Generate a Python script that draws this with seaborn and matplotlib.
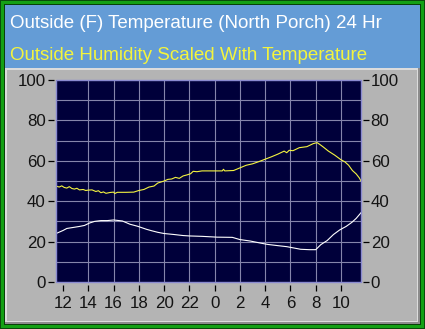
import numpy as np
import pandas as pd
import matplotlib
matplotlib.use("Agg")
import matplotlib.pyplot as plt
from matplotlib.patches import Rectangle
import seaborn as sns

# hours after 12:00 (noon) and the two traces
hum_hours = [-0.55, -0.3, -0.1, 0.1, 0.3, 0.5, 0.7, 0.9, 1.1, 1.3, 1.6, 1.8, 2.0, 2.3,
             2.6, 2.8, 3.0, 3.2, 3.4, 3.7, 4.0, 4.1, 4.3, 5.0, 5.6, 6.0, 6.4, 6.8, 7.2,
             7.5, 8.0, 8.3, 8.6, 8.9, 9.2, 9.5, 9.8, 10.1, 10.3, 10.6, 11.0, 12.0, 12.6,
             12.7, 12.8, 13.5, 14.0, 14.5, 15.0, 15.5, 16.0, 16.5, 17.0, 17.5, 17.7,
             17.9, 18.2, 18.7, 19.3, 19.8, 20.1, 20.3, 20.6, 21.0, 21.5, 22.0, 22.3,
             22.6, 22.9, 23.2, 23.45, 23.58]
hum_vals = [47.5, 47.0, 47.6, 46.8, 46.5, 47.2, 46.3, 46.0, 46.4, 45.6, 45.8, 45.3, 45.5,
            45.6, 44.8, 45.2, 44.2, 44.6, 43.9, 44.3, 44.5, 43.8, 44.4, 44.4, 44.5, 45.3,
            45.8, 47.0, 47.5, 49.0, 50.0, 50.8, 51.0, 51.8, 51.3, 52.5, 53.0, 53.6, 54.8,
            54.6, 55.0, 55.0, 55.0, 55.8, 55.0, 55.2, 56.5, 57.8, 58.5, 59.6, 60.8, 62.0,
            63.3, 64.8, 64.0, 65.2, 65.0, 66.5, 67.0, 68.5, 69.0, 68.2, 66.8, 64.8, 62.8,
            60.5, 59.5, 57.8, 55.2, 53.5, 51.5, 50.0]

temp_hours = [-0.55, 0.0, 0.3, 0.8, 1.3, 1.7, 2.1, 2.5, 3.0, 3.5, 4.0, 4.3, 4.7, 5.3,
              5.9, 6.6, 7.0, 7.5, 8.0, 8.8, 9.5, 10.0, 11.0, 11.6, 12.2, 13.4, 14.0,
              14.8, 15.6, 16.2, 17.0, 17.7, 18.3, 18.8, 19.5, 20.0, 20.4, 20.9, 21.4,
              21.9, 22.4, 22.85, 23.2, 23.58]
temp_vals = [24.0, 25.5, 26.5, 27.0, 27.5, 28.0, 29.2, 30.0, 30.4, 30.4, 30.7, 30.5,
             30.2, 28.6, 27.6, 26.1, 25.4, 24.6, 24.0, 23.5, 23.0, 22.8, 22.6, 22.4,
             22.2, 22.1, 21.0, 20.3, 19.3, 18.6, 18.0, 17.5, 16.8, 16.2, 16.0, 16.0,
             18.5, 20.5, 23.5, 25.8, 27.5, 29.5, 31.5, 34.3]

tick_pos = list(range(0, 24, 2))
tick_labels = ["12", "14", "16", "18", "20", "22", "0", "2", "4", "6", "8", "10"]
y_ticks = [0, 20, 40, 60, 80, 100]

hum = pd.DataFrame({"hour": hum_hours, "value": hum_vals})
temp = pd.DataFrame({"hour": temp_hours, "value": temp_vals})

W, H = 425, 329
fig = plt.figure(figsize=(W / 100, H / 100), dpi=100)


def box(x0, y0, x1, y1, color, z=0):
    # rectangle given in pixel coords from the top-left corner
    fig.add_artist(Rectangle((x0 / W, 1 - y1 / H), (x1 - x0) / W, (y1 - y0) / H,
                             transform=fig.transFigure, facecolor=color,
                             edgecolor="none", zorder=z))


# green frame
fig.patch.set_facecolor("#0b4a0b")
box(1, 1, W - 1, H - 1, "#14a014")
box(4, 4, W - 4, H - 4, "#084008")
# title band and grey panel with a simple bevel
box(5, 5, W - 5, 68, "#649cd6")
box(5, 68, W - 5, H - 5, "#8c8c8c")
box(5, 68, W - 7, H - 7, "#dcdcdc")
box(7, 70, W - 8, H - 8, "#b4b4b4")

fig.text(10 / W, 1 - 27.5 / H, "Outside (F) Temperature (North Porch) 24 Hr",
         color="white", fontsize=13.5, family="Liberation Sans", va="baseline")
fig.text(10 / W, 1 - 59.5 / H, "Outside Humidity Scaled With Temperature",
         color="#f4f43c", fontsize=13.5, family="Liberation Sans", va="baseline")

ax = fig.add_axes([56 / W, 1 - 282 / H, 305 / W, 202 / H])
ax.set_facecolor("#00003a")
ax.set_zorder(5)

sns.lineplot(data=hum, x="hour", y="value", ax=ax, color="#f4f440", linewidth=0.8,
             estimator=None, sort=False)
sns.lineplot(data=temp, x="hour", y="value", ax=ax, color="white", linewidth=0.8,
             estimator=None, sort=False)

ax.set_xlim(-0.554, 23.58)
ax.set_ylim(0, 100)
for h in tick_pos[1:]:
    ax.axvline(h, color="#8585ab", linewidth=0.8, zorder=0.5)
for v in range(10, 100, 10):
    ax.axhline(v, color="#8585ab", linewidth=0.8, zorder=0.5)

ax.set_xticks(tick_pos)
ax.set_xticklabels(tick_labels)
ax.set_yticks(y_ticks)
ax.set_xlabel("")
ax.set_ylabel("")
for s in ax.spines.values():
    s.set_visible(False)
ax.spines["bottom"].set_position(("outward", 2.2))
ax.spines["left"].set_position(("outward", 1.5))
ax.add_patch(Rectangle((0, 0), 1, 1, transform=ax.transAxes, fill=False,
                       edgecolor="#8a8ad0", linewidth=1.0, clip_on=False, zorder=10))

tick_font = ["Liberation Sans Narrow", "Liberation Sans"]
ax.tick_params(axis="x", length=4.5, width=0.9, color="black", pad=3.5,
               labelsize=12.2, labelcolor="#141414")
ax.tick_params(axis="y", length=4.5, width=0.9, color="black", pad=1.5,
               labelsize=12.2, labelcolor="#141414")
for lab in ax.get_xticklabels() + ax.get_yticklabels():
    lab.set_family(tick_font)

ax2 = ax.twinx()
ax2.set_ylim(0, 100)
ax2.set_yticks(y_ticks)
for s in ax2.spines.values():
    s.set_visible(False)
ax2.spines["right"].set_position(("outward", 1.5))
ax2.tick_params(axis="y", length=4.5, width=0.9, color="black", pad=1.0,
                labelsize=12.2, labelcolor="#141414")
for lab in ax2.get_yticklabels():
    lab.set_family(tick_font)

fig.savefig("out.png", dpi=100, facecolor=fig.get_facecolor())
